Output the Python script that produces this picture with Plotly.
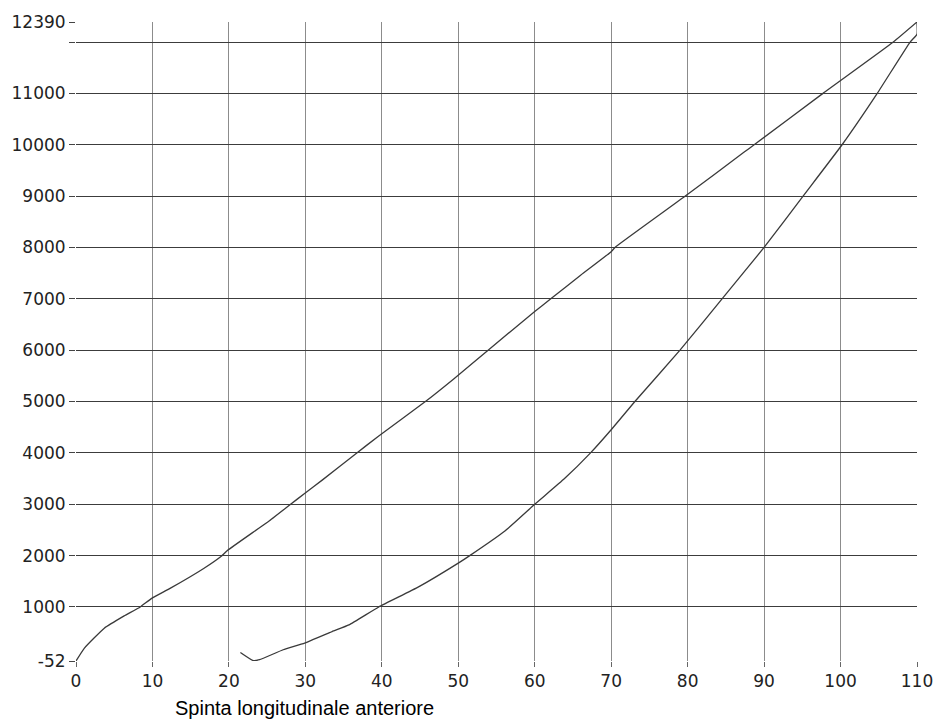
import plotly.graph_objects as go

# Upper (loading) branch
load_x = [0, 1.1, 3.7, 6.3, 8.4, 9.9, 12.3, 16.7, 19.0, 19.8, 25.3, 27.9, 29.9, 32.2,
          36.4, 39.6, 45.7, 49.4, 53.9, 60.0, 62.1, 66.0, 70.0, 70.5, 79.7, 87.4, 88.7,
          97.7, 106.9, 110]
load_y = [-52, 200, 587, 826, 1000, 1168, 1362, 1750, 1988, 2100, 2680, 2980, 3210, 3470,
          3960, 4330, 5000, 5440, 6000, 6755, 7000, 7460, 7918, 8000, 9000, 9857, 10000,
          11000, 12000, 12390]

# Lower (unloading) branch
unload_x = [110, 110, 109.1, 104.8, 100.2, 95.1, 90.0, 84.5, 79.0, 73.1, 70.0, 67.3,
            63.9, 60.0, 56.1, 51.5, 50.0, 44.8, 39.6, 35.7, 33.5, 29.9, 27.1, 24.0,
            23.2, 21.5]
unload_y = [12390, 12150, 12000, 11000, 10000, 9000, 8000, 7000, 6000, 5000, 4450, 4000,
            3500, 3000, 2480, 2000, 1853, 1390, 1000, 651, 521, 296, 167, -27,
            -46, 114]

x_ticks = [0, 10, 20, 30, 40, 50, 60, 70, 80, 90, 100, 110]
y_ticks = [-52, 1000, 2000, 3000, 4000, 5000, 6000, 7000, 8000, 9000, 10000, 11000, 12000, 12390]
y_labels = ["-52", "1000", "2000", "3000", "4000", "5000", "6000", "7000", "8000",
            "9000", "10000", "11000", "", "12390"]

line_style = dict(color="#3a3a3a", width=1.3, shape="spline", smoothing=0.4)

fig = go.Figure()
fig.add_trace(go.Scatter(x=load_x, y=load_y, mode="lines", line=line_style, showlegend=False))
fig.add_trace(go.Scatter(x=unload_x, y=unload_y, mode="lines", line=line_style, showlegend=False))

tick_font = dict(family="DejaVu Sans", size=17, color="#222")

fig.update_layout(
    width=945, height=728,
    margin=dict(l=75, r=23, t=19, b=67),
    paper_bgcolor="white", plot_bgcolor="white",
    font=dict(family="DejaVu Sans", size=17, color="#222"),
    xaxis=dict(range=[0, 110], tickvals=x_ticks, ticktext=[str(v) for v in x_ticks],
               showgrid=True, gridcolor="#8c8c8c", gridwidth=1, zeroline=False,
               showline=False, ticks="outside", ticklen=5, tickcolor="#666",
               tickfont=tick_font),
    yaxis=dict(range=[-52, 12390], tickvals=y_ticks, ticktext=y_labels,
               showgrid=True, gridcolor="#3c3c3c", gridwidth=1.2, zeroline=False,
               showline=False, ticks="outside", ticklen=6, tickcolor="#444",
               tickfont=tick_font),
    annotations=[dict(text="Spinta longitudinale anteriore", xref="paper", yref="paper",
                      x=0.1157, y=-0.073, xanchor="left", yanchor="middle", showarrow=False,
                      font=dict(family="Liberation Sans", size=20, color="#000"))],
)

fig.write_html("out.html")
